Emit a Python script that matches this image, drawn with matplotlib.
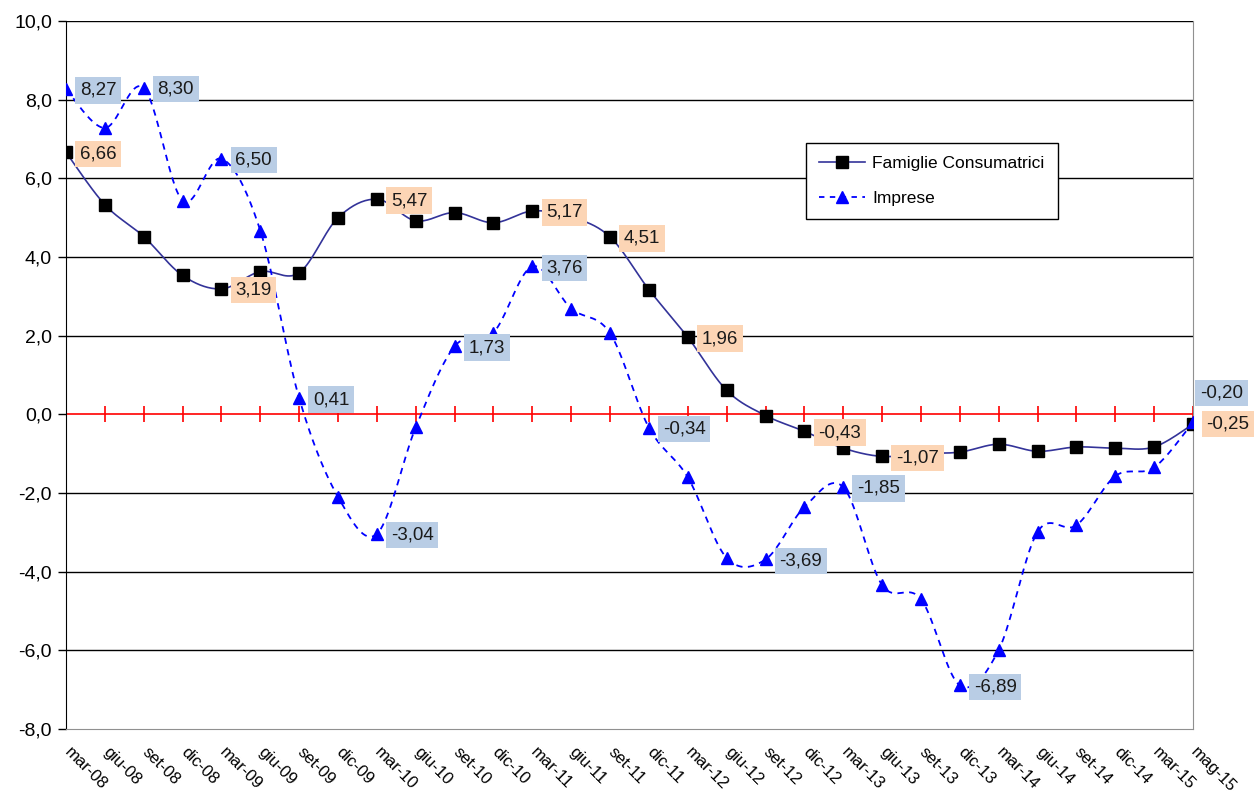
import numpy as np
import matplotlib
matplotlib.use("Agg")
import matplotlib.pyplot as plt
import matplotlib.transforms as mtransforms
from matplotlib.lines import Line2D

plt.rcParams['font.family'] = ['Liberation Sans', 'DejaVu Sans']

periodi = ['mar-08', 'giu-08', 'set-08', 'dic-08', 'mar-09', 'giu-09', 'set-09', 'dic-09',
           'mar-10', 'giu-10', 'set-10', 'dic-10', 'mar-11', 'giu-11', 'set-11', 'dic-11',
           'mar-12', 'giu-12', 'set-12', 'dic-12', 'mar-13', 'giu-13', 'set-13', 'dic-13',
           'mar-14', 'giu-14', 'set-14', 'dic-14', 'mar-15', 'mag-15']

famiglie = [6.66, 5.33, 4.52, 3.53, 3.19, 3.63, 3.60, 5.00,
            5.47, 4.92, 5.13, 4.87, 5.17, 5.02, 4.51, 3.17,
            1.96, 0.61, -0.03, -0.43, -0.86, -1.07, -1.00, -0.96,
            -0.76, -0.94, -0.83, -0.86, -0.83, -0.25]

imprese = [8.27, 7.28, 8.30, 5.43, 6.50, 4.67, 0.41, -2.10,
           -3.04, -0.33, 1.73, 2.08, 3.76, 2.69, 2.06, -0.34,
           -1.60, -3.65, -3.69, -2.36, -1.85, -4.34, -4.70, -6.89,
           -5.99, -2.99, -2.82, -1.57, -1.35, -0.20]

# punti con etichetta
etich_famiglie = ['mar-08', 'mar-09', 'mar-10', 'mar-11', 'set-11', 'mar-12', 'dic-12', 'giu-13', 'mag-15']
etich_imprese = ['mar-08', 'set-08', 'mar-09', 'set-09', 'mar-10', 'set-10', 'mar-11', 'dic-11',
                 'set-12', 'mar-13', 'dic-13', 'mag-15']


def smooth(y, n=20):
    # curva tipo "linea smussata" di Excel (Catmull-Rom)
    y = np.asarray(y, dtype=float)
    x = np.arange(len(y), dtype=float)
    px = np.concatenate([[x[0]], x, [x[-1]]])
    py = np.concatenate([[y[0]], y, [y[-1]]])
    xs, ys = [], []
    t = np.linspace(0, 1, n, endpoint=False)
    for i in range(1, len(px) - 2):
        for p, out in ((px, xs), (py, ys)):
            p0, p1, p2, p3 = p[i - 1], p[i], p[i + 1], p[i + 2]
            c1 = p1 + (p2 - p0) / 6
            c2 = p2 - (p3 - p1) / 6
            out.extend((1 - t) ** 3 * p1 + 3 * (1 - t) ** 2 * t * c1 + 3 * (1 - t) * t ** 2 * c2 + t ** 3 * p2)
    xs.append(x[-1])
    ys.append(y[-1])
    return np.array(xs), np.array(ys)


fig = plt.figure(figsize=(12.54, 7.93), dpi=100)
ax = fig.add_axes([66 / 1254, 64 / 793, 1127 / 1254, 708 / 793])

x = np.arange(len(periodi))
col_fam = '#333399'
col_imp = '#0000ff'

for v in np.arange(-6, 10.1, 2):
    if v != 0:
        ax.axhline(v, color='black', lw=1, zorder=1)
ax.axhline(0, color='red', lw=1.2, zorder=1)
ax.plot(x[1:], np.zeros(len(x) - 1), ls='none', marker='|', ms=11, mew=1.2, color='red', zorder=1)

sx, sy = smooth(famiglie)
ax.plot(sx, sy, color=col_fam, lw=1.2, zorder=3)
ax.plot(x, famiglie, ls='none', marker='s', ms=8.5, color='black', zorder=4)

sx, sy = smooth(imprese)
ax.plot(sx, sy, color=col_imp, lw=1.3, ls=(0, (3.5, 3)), zorder=3)
ax.plot(x, imprese, ls='none', marker='^', ms=9, color=col_imp, zorder=4)

box_blu = dict(boxstyle='square,pad=0.25', fc='#b9cde5', ec='none')
box_ara = dict(boxstyle='square,pad=0.25', fc='#fcd5b5', ec='none')

for p in etich_famiglie:
    i = periodi.index(p)
    off = (10, -1) if p != 'mag-15' else (9.5, 0)
    ax.annotate(f"{famiglie[i]:.2f}".replace('.', ','), (i, famiglie[i]), xytext=off,
                textcoords='offset points', ha='left', va='center', fontsize=13.5,
                color='#1a1a1a', bbox=box_ara, zorder=5, annotation_clip=False)

for p in etich_imprese:
    i = periodi.index(p)
    off = (10, -1) if p != 'mag-15' else (5, 21)
    ax.annotate(f"{imprese[i]:.2f}".replace('.', ','), (i, imprese[i]), xytext=off,
                textcoords='offset points', ha='left', va='center', fontsize=13.5,
                color='#1a1a1a', bbox=box_blu, zorder=5, annotation_clip=False)

ax.set_xlim(0, len(periodi) - 1)
ax.set_ylim(-8, 10)
ax.set_yticks(np.arange(-8, 10.1, 2))
ax.set_yticklabels([f"{v:.1f}".replace('.', ',') for v in np.arange(-8, 10.1, 2)])
ax.set_xticks(x)
ax.set_xticklabels(periodi, rotation=-45, ha='left', va='top', rotation_mode='anchor')
ax.tick_params(axis='x', length=0, pad=11, labelsize=12)
ax.tick_params(axis='y', length=6, width=1, direction='out', labelsize=14, pad=4)
sposta = mtransforms.ScaledTranslation(6 / 100, 0, fig.dpi_scale_trans)
for lab in ax.get_xticklabels():
    lab.set_transform(lab.get_transform() + sposta)

ax.spines['top'].set_visible(False)
ax.spines['left'].set_color('black')
ax.spines['bottom'].set_color('#909090')
ax.spines['right'].set_color('#909090')

handles = [Line2D([], [], color=col_fam, lw=1.2, marker='s', ms=8, mfc='black', mec='black'),
           Line2D([], [], color=col_imp, lw=1.3, ls=(0, (3, 3)), marker='^', ms=8, mfc=col_imp, mec=col_imp)]
leg = ax.legend(handles, ['Famiglie Consumatrici', 'Imprese'], loc='upper left',
                bbox_to_anchor=(0.657, 0.828), fontsize=12.5, handlelength=2.6,
                handletextpad=0.45, labelspacing=1.15, borderpad=0.75, fancybox=False,
                framealpha=1, edgecolor='black', borderaxespad=0)
leg.get_frame().set_linewidth(1)

fig.savefig('out.png', dpi=100, facecolor='white')
